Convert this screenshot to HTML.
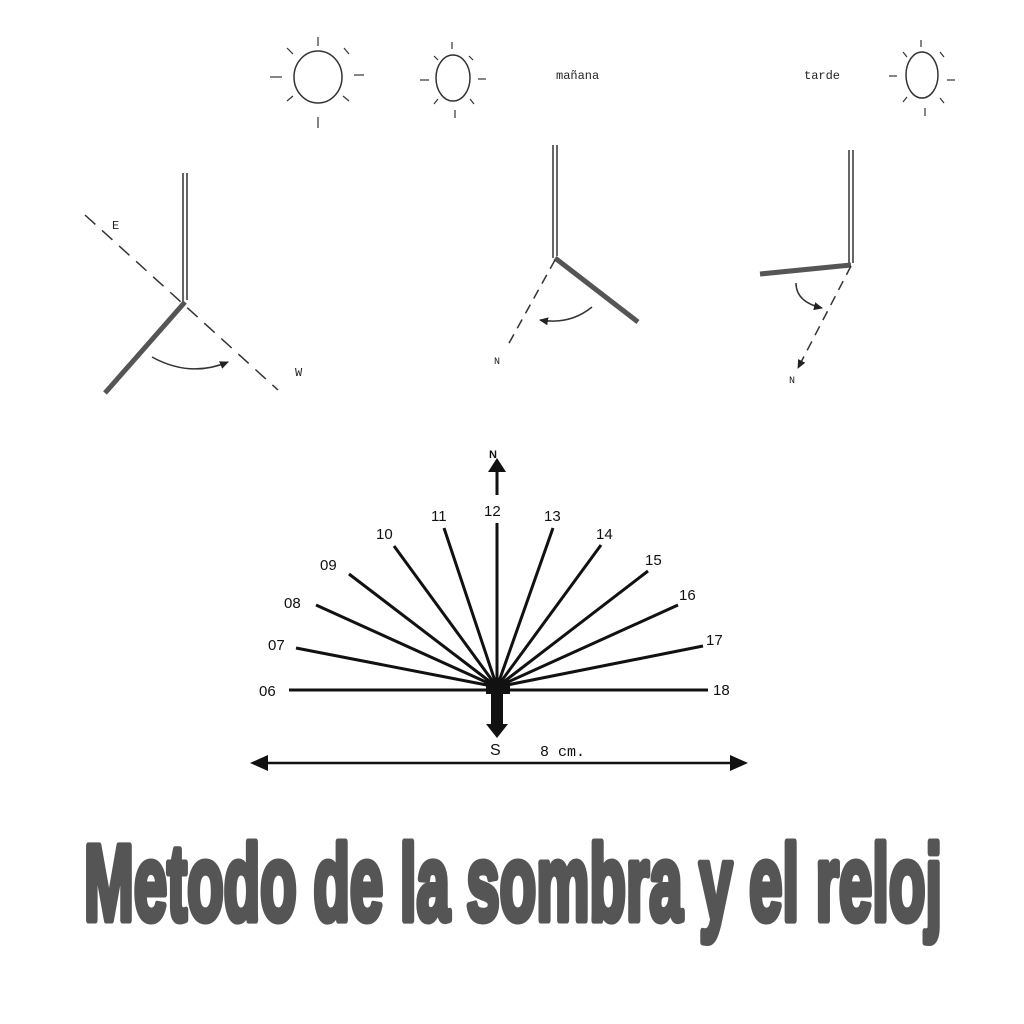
<!DOCTYPE html>
<html><head><meta charset="utf-8"><style>
html,body{margin:0;padding:0;background:#fff;}
svg{display:block;}
</style></head><body>
<svg width="1024" height="1024" viewBox="0 0 1024 1024" xmlns="http://www.w3.org/2000/svg">
<defs>
<marker id="ah" markerWidth="10" markerHeight="10" refX="8" refY="5" orient="auto" markerUnits="userSpaceOnUse"><path d="M0,1 L9,5 L0,9 Z" fill="#222"/></marker>
</defs>
<g fill="none" stroke="#333" stroke-width="1.5">
<ellipse cx="318" cy="77" rx="24" ry="26"/>
<g stroke-width="1.2">
<line x1="318" y1="37" x2="318" y2="46"/><line x1="318" y1="117" x2="318" y2="128"/>
<line x1="270" y1="77" x2="282" y2="77"/><line x1="354" y1="75" x2="364" y2="75"/>
<line x1="287" y1="48" x2="293" y2="54"/><line x1="344" y1="48" x2="349" y2="54"/>
<line x1="287" y1="101" x2="293" y2="96"/><line x1="343" y1="96" x2="349" y2="101"/>
</g>
<ellipse cx="453" cy="78" rx="17" ry="23"/>
<g stroke-width="1.2">
<line x1="452" y1="42" x2="452" y2="49"/><line x1="455" y1="110" x2="455" y2="118"/>
<line x1="420" y1="80" x2="429" y2="80"/><line x1="478" y1="79" x2="486" y2="79"/>
<line x1="434" y1="56" x2="438" y2="60"/><line x1="469" y1="56" x2="473" y2="60"/>
<line x1="434" y1="104" x2="438" y2="99"/><line x1="470" y1="99" x2="474" y2="104"/>
</g>
<ellipse cx="922" cy="75" rx="16" ry="23"/>
<g stroke-width="1.2">
<line x1="921" y1="40" x2="921" y2="47"/><line x1="925" y1="108" x2="925" y2="116"/>
<line x1="889" y1="76" x2="897" y2="76"/><line x1="947" y1="80" x2="955" y2="80"/>
<line x1="903" y1="52" x2="907" y2="57"/><line x1="940" y1="52" x2="944" y2="57"/>
<line x1="903" y1="102" x2="907" y2="97"/><line x1="940" y1="98" x2="944" y2="103"/>
</g>
<line x1="183" y1="173" x2="183" y2="302"/><line x1="187" y1="173" x2="187" y2="300"/>
<line x1="185" y1="302" x2="105" y2="393" stroke-width="5" stroke="#555"/>
<line x1="85" y1="215" x2="278" y2="390" stroke-dasharray="14,9"/>
<path d="M152,357 Q190,378 228,362" marker-end="url(#ah)"/>
<line x1="553" y1="145" x2="553" y2="258"/><line x1="557" y1="145" x2="557" y2="256"/>
<line x1="555" y1="258" x2="638" y2="322" stroke-width="5" stroke="#555"/>
<line x1="555" y1="260" x2="508" y2="345" stroke-dasharray="10,7"/>
<path d="M592,307 Q570,325 540,320" marker-end="url(#ah)"/>
<line x1="849" y1="150" x2="849" y2="263"/><line x1="853" y1="150" x2="853" y2="263"/>
<line x1="851" y1="265" x2="760" y2="274" stroke-width="5" stroke="#555"/>
<line x1="851" y1="266" x2="798" y2="368" stroke-dasharray="10,7" marker-end="url(#ah)"/>
<path d="M796,283 Q796,302 822,308" marker-end="url(#ah)"/>
</g>
<g font-family="Liberation Mono, monospace" font-size="12" fill="#222">
<text x="556" y="79">mañana</text>
<text x="804" y="79">tarde</text>
<text x="112" y="229">E</text>
<text x="295" y="376">W</text>
<text x="494" y="364" font-size="10">N</text>
<text x="789" y="383" font-size="10">N</text>
</g>
<g stroke="#111" stroke-width="3" fill="none">
<line x1="289" y1="690" x2="708" y2="690"/>
<line x1="497" y1="687" x2="296" y2="648"/>
<line x1="497" y1="687" x2="316" y2="605"/>
<line x1="497" y1="687" x2="349" y2="574"/>
<line x1="497" y1="687" x2="394" y2="546"/>
<line x1="497" y1="687" x2="444" y2="528"/>
<line x1="497" y1="687" x2="497" y2="523"/>
<line x1="497" y1="687" x2="553" y2="528"/>
<line x1="497" y1="687" x2="601" y2="545"/>
<line x1="497" y1="687" x2="648" y2="571"/>
<line x1="497" y1="687" x2="678" y2="605"/>
<line x1="497" y1="687" x2="703" y2="646"/>
<line x1="497" y1="495" x2="497" y2="470"/>
<line x1="258" y1="763" x2="740" y2="763" stroke-width="2.5"/>
</g>
<rect x="486" y="680" width="24" height="14" fill="#111"/>
<rect x="491" y="690" width="12" height="36" fill="#111"/>
<path d="M486,724 L508,724 L497,738 Z" fill="#111"/>
<path d="M488,472 L506,472 L497,458 Z" fill="#111"/>
<path d="M250,763 L268,755 L268,771 Z" fill="#111"/>
<path d="M748,763 L730,755 L730,771 Z" fill="#111"/>
<g font-family="Liberation Sans, sans-serif" font-size="15" fill="#111">
<text x="259" y="696">06</text>
<text x="268" y="650">07</text>
<text x="284" y="608">08</text>
<text x="320" y="570">09</text>
<text x="376" y="539">10</text>
<text x="431" y="521">11</text>
<text x="484" y="516">12</text>
<text x="544" y="521">13</text>
<text x="596" y="539">14</text>
<text x="645" y="565">15</text>
<text x="679" y="600">16</text>
<text x="706" y="645">17</text>
<text x="713" y="695">18</text>
<text x="490" y="755" font-size="16">S</text>
<text x="489" y="458" font-size="11" font-weight="bold">N</text>
<text x="540" y="756" font-size="15" font-family="Liberation Mono, monospace">8 cm.</text>
</g>
<text x="84" y="920" font-family="Liberation Sans, sans-serif" font-weight="bold" font-size="108" fill="#555" stroke="#555" stroke-width="7" stroke-linejoin="round" textLength="858" lengthAdjust="spacingAndGlyphs">Metodo de la sombra y el reloj</text>
</svg>
</body></html>
